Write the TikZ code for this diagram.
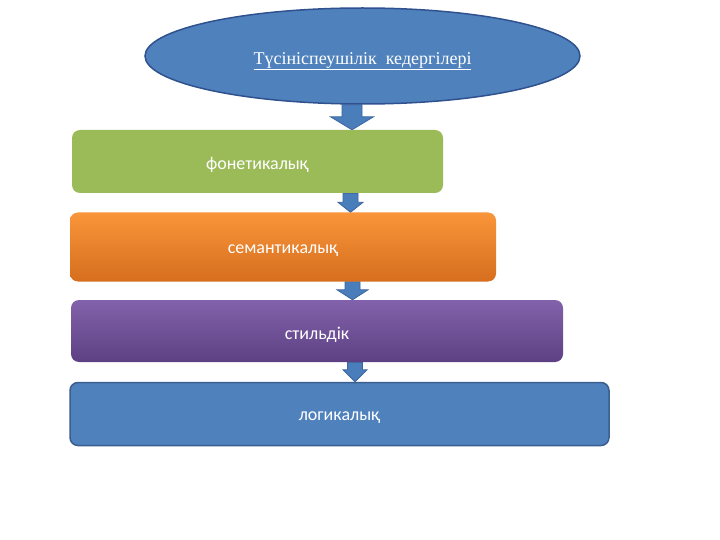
\documentclass[tikz,border=0pt]{standalone}
\usepackage{fontspec}
\setmainfont{Liberation Serif}
\newfontfamily\boxfont{Carlito}
\usetikzlibrary{calc,backgrounds,shapes.geometric}
\definecolor{ellfill}{HTML}{4F81BD}
\definecolor{ellborder}{HTML}{2F528F}
\definecolor{greenbox}{HTML}{9BBB59}
\definecolor{orangetop}{HTML}{F9953A}
\definecolor{orangebot}{HTML}{D66E1E}
\definecolor{purptop}{HTML}{8262AA}
\definecolor{purpbot}{HTML}{5D4084}
\definecolor{bluebox}{HTML}{4F81BD}
\definecolor{blueborder}{HTML}{3A5F8E}
\definecolor{arrfill}{HTML}{4A7EBB}
\definecolor{arrborder}{HTML}{3B64A0}
\tikzset{
  ellnode/.style={ellipse, draw=ellborder, line width=1.5pt, fill=ellfill,
    minimum width=435pt, minimum height=96pt, inner sep=0pt, text=white,
    font=\fontsize{18}{21}\selectfont},
  boxnode/.style={rectangle, rounded corners=8pt, inner sep=0pt, text=white,
    font=\boxfont\fontsize{18}{21}\selectfont},
  barrow/.style={fill=arrfill, draw=arrborder, line width=0.8pt, line join=miter},
}
\newcommand\blockarrow[6]{% x, top node, bottom node, shaft half width, head half width, head length
  \draw[barrow] let \p1=(#2.south), \p2=(#3.north) in
    ({#1pt-#4pt},\y1) -- ({#1pt+#4pt},\y1) -- ({#1pt+#4pt},{\y2+#6pt})
    -- ({#1pt+#5pt},{\y2+#6pt}) -- ({#1pt},\y2) -- ({#1pt-#5pt},{\y2+#6pt})
    -- ({#1pt-#4pt},{\y2+#6pt}) -- cycle;
}
\newcommand\lowered[2]{\raisebox{-#1}[\height][\depth]{#2}}
\begin{document}
\begin{tikzpicture}[x=1pt,y=-1pt]
\useasboundingbox (0,0) rectangle (720,540);
\node[ellnode] (e) at (362.5,56) {\lowered{5pt}{\underline{Түсініспеушілік\ \ кедергілері}}};
\node[boxnode, fill=greenbox, minimum width=371pt, minimum height=63pt] (g) at (257.5,161.5) {\lowered{3.5pt}{фонетикалық}};
\node[boxnode, top color=orangetop, bottom color=orangebot, minimum width=426pt, minimum height=69pt] (o) at (283,247) {\lowered{3.5pt}{семантикалық}};
\node[boxnode, top color=purptop, bottom color=purpbot, minimum width=492pt, minimum height=62pt] (p) at (317,331) {\lowered{3.5pt}{стильдік}};
\node[boxnode, fill=bluebox, draw=blueborder, line width=1.5pt, minimum width=539pt, minimum height=63pt] (b) at (339.5,414) {\lowered{4pt}{логикалық}};
\begin{scope}[on background layer]
\blockarrow{352}{e}{g}{10}{21.5}{13}
\blockarrow{350.5}{g}{o}{7.5}{12.5}{10}
\blockarrow{352.5}{o}{p}{7.5}{15.5}{10}
\blockarrow{355}{p}{b}{7.5}{12}{12}
\end{scope}
\end{tikzpicture}
\end{document}
